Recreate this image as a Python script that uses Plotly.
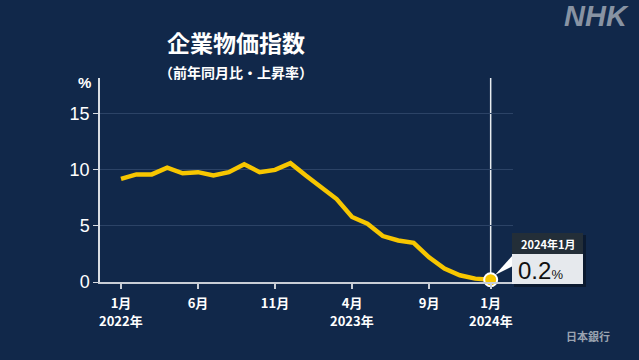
import plotly.graph_objects as go

# ---- data ----
months = ["2022-01","2022-02","2022-03","2022-04","2022-05","2022-06","2022-07","2022-08",
          "2022-09","2022-10","2022-11","2022-12","2023-01","2023-02","2023-03","2023-04",
          "2023-05","2023-06","2023-07","2023-08","2023-09","2023-10","2023-11","2023-12",
          "2024-01"]
values = [9.2, 9.6, 9.6, 10.2, 9.7, 9.8, 9.5, 9.8, 10.5, 9.8, 10.0, 10.6,
          9.5, 8.4, 7.4, 5.8, 5.2, 4.1, 3.7, 3.5, 2.2, 1.2, 0.6, 0.3, 0.2]
tick_idx = [0, 5, 10, 15, 20, 24]
tick_text = ["1月", "6月", "11月", "4月", "9月", "1月"]
year_idx = [0, 15, 24]
year_text = ["2022年", "2023年", "2024年"]
y_ticks = [0, 5, 10, 15]

x_idx = list(range(len(months)))

BG = "#11284a"
GOLD = "#f7c600"
JP = "Noto Sans CJK JP"
LAT = "Liberation Sans"

# plot area in pixels
PL, PR, PT, PB = 100, 513, 78, 282

def px(xp):
    return (xp - PL) / (PR - PL)

def py(yp):
    return (PB - yp) / (PB - PT)

fig = go.Figure()
fig.add_trace(go.Scatter(x=x_idx, y=values, mode="lines",
                         line=dict(color=GOLD, width=4.5), hoverinfo="skip"))
fig.add_trace(go.Scatter(x=[x_idx[-1]], y=[values[-1]], mode="markers",
                         marker=dict(color=GOLD, size=13, line=dict(color="white", width=2)),
                         cliponaxis=False, hoverinfo="skip"))

fig.update_layout(
    width=639, height=360,
    margin=dict(l=PL, r=639 - PR, t=PT, b=360 - PB),
    paper_bgcolor=BG, plot_bgcolor=BG,
    showlegend=False,
    xaxis=dict(range=[-1.364, 25.45], tickvals=tick_idx, ticktext=tick_text,
               showgrid=False, zeroline=False, showline=True, linecolor="#c9ced6", linewidth=2,
               ticks="outside", ticklen=5, tickcolor="#c9ced6", tickwidth=1.5,
               ticklabelstandoff=3,
               tickfont=dict(family=JP, size=13, color="white", weight="bold")),
    yaxis=dict(range=[0, 18.2], tickvals=y_ticks, showgrid=True, gridcolor="#2c4366", gridwidth=1,
               zeroline=False, showline=True, linecolor="#d9dde3", linewidth=1.5,
               ticks="outside", ticklen=5, tickcolor="#d9dde3", tickwidth=1,
               tickfont=dict(family=LAT, size=18, color="white")),
)

shapes = []
# vertical marker line
shapes.append(dict(type="line", xref="x", yref="paper", x0=x_idx[-1], x1=x_idx[-1], y0=0, y1=1,
                   line=dict(color="#e8ecf0", width=1.5), layer="below"))
# callout shadow
shapes.append(dict(type="rect", xref="paper", yref="paper",
                   x0=px(514), x1=px(586), y0=py(287), y1=py(235),
                   fillcolor="rgba(0,0,0,0.35)", line=dict(width=0)))
# callout pointer
shapes.append(dict(type="path", xref="paper", yref="paper",
                   path=f"M {px(495)},{py(275)} L {px(513)},{py(255)} L {px(513)},{py(266)} Z",
                   fillcolor="white", line=dict(width=0)))
# callout header
shapes.append(dict(type="rect", xref="paper", yref="paper",
                   x0=px(512), x1=px(583), y0=py(254), y1=py(233),
                   fillcolor="#232e38", line=dict(width=0)))
# callout body
shapes.append(dict(type="rect", xref="paper", yref="paper",
                   x0=px(512), x1=px(583), y0=py(284), y1=py(254),
                   fillcolor="#e6e9ed", line=dict(width=0)))
fig.update_layout(shapes=shapes)

ann = []
for xi, yt in zip(year_idx, year_text):
    ann.append(dict(text=yt, xref="x", yref="paper", x=xi, y=py(320),
                    showarrow=False, font=dict(family=JP, size=13, color="white", weight="bold"),
                    xanchor="center", yanchor="middle"))
ann.append(dict(text="<b>企業物価指数</b>", xref="paper", yref="paper", x=px(236), y=py(42),
                showarrow=False, font=dict(family=JP, size=23, color="white"),
                xanchor="center", yanchor="middle"))
ann.append(dict(text="<b>（前年同月比・上昇率）</b>", xref="paper", yref="paper", x=px(236), y=py(72),
                showarrow=False, font=dict(family=JP, size=14, color="white"),
                xanchor="center", yanchor="middle"))
ann.append(dict(text="<b>%</b>", xref="paper", yref="paper", x=px(84), y=py(82),
                showarrow=False, font=dict(family=LAT, size=15, color="white"),
                xanchor="center", yanchor="middle"))
ann.append(dict(text="<b><i>NHK</i></b>", xref="paper", yref="paper", x=px(596), y=py(16),
                showarrow=False, font=dict(family=LAT, size=29, color="#8893a3"),
                xanchor="center", yanchor="middle"))
ann.append(dict(text="<b>日本銀行</b>", xref="paper", yref="paper", x=px(588), y=py(336),
                showarrow=False, font=dict(family=JP, size=11, color="#9aa3b0"),
                xanchor="center", yanchor="middle"))
ann.append(dict(text="<b>2024年1月</b>", xref="paper", yref="paper", x=px(547.5), y=py(244),
                showarrow=False, font=dict(family=JP, size=11, color="white"),
                xanchor="center", yanchor="middle"))
ann.append(dict(text=f"{values[-1]:.1f}<span style='font-size:13px'>%</span>", xref="paper", yref="paper",
                x=px(516), y=py(270), showarrow=False,
                font=dict(family=LAT, size=24, color="#111111"),
                xanchor="left", yanchor="middle"))
fig.update_layout(annotations=ann)

fig.write_html("out.html", config={"displayModeBar": False})

# remove default page margin so the figure fills the window exactly
with open("out.html", "r", encoding="utf-8") as f:
    html = f.read()
html = html.replace("<head>", "<head><style>html,body{margin:0;padding:0;overflow:hidden;}</style>", 1)
with open("out.html", "w", encoding="utf-8") as f:
    f.write(html)
